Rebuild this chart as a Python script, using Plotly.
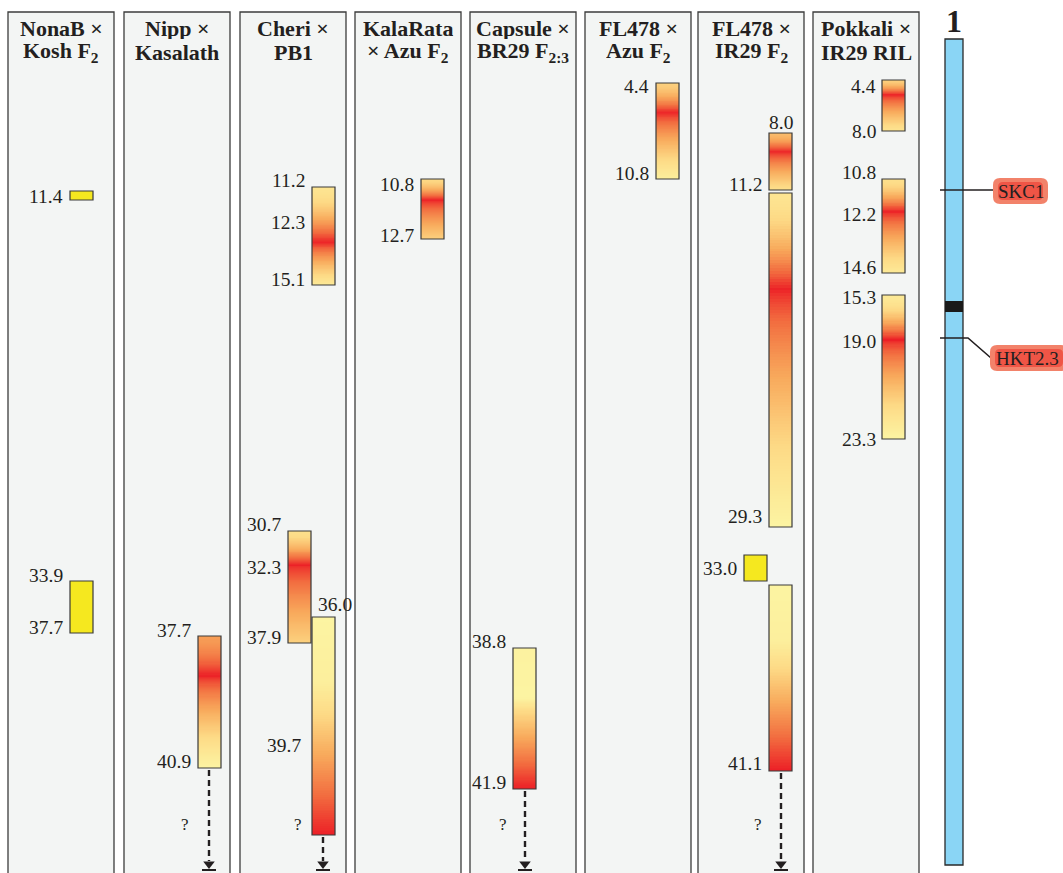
import numpy as np
import plotly.graph_objects as go

# ---------------- data ----------------
panel_line1 = ["NonaB ×", "Nipp ×", "Cheri ×", "KalaRata", "Capsule ×", "FL478 ×", "FL478 ×", "Pokkali ×"]
panel_line2 = ["Kosh F<sub>2</sub>", "Kasalath", "PB1", "× Azu F<sub>2</sub>", "BR29 F<sub>2:3</sub>",
               "Azu F<sub>2</sub>", "IR29 F<sub>2</sub>", "IR29 RIL"]
panel_left = [8, 124, 240, 355, 470, 585, 698, 813]

# bars: diagram positions (top/bottom), column left edge, gradient style
bar_left = [70, 70, 198, 312, 288, 312, 421, 513, 656, 769, 769, 744, 769, 882, 882, 882]
bar_top = [191, 581, 636, 187, 531, 617, 179, 648, 83, 133, 193, 555, 585, 80, 179, 295]
bar_bottom = [200, 633, 768, 285, 643, 835, 239, 789, 179, 190, 527, 581, 771, 131, 273, 439]
bar_style = ["solid", "solid", "peak", "peak", "peak", "rise", "peak", "rise2", "peak",
             "peak", "peak", "solid", "rise", "peak", "peak", "peak"]
bar_peak = [None, None, 676, 243, 565, None, 200, None, 113, 152, 290, None, None, 95, 212, 340]
bar_top_level = [0, 0, 0.55, 0.15, 0.2, 0, 0.25, 0, 0.3, 0.4, 0.15, 0, 0, 0.3, 0.2, 0.1]
bar_bottom_level = [0, 0, 0.0, 0.1, 0.3, 1, 0.3, 1, 0.05, 0.2, 0.0, 0, 1, 0.15, 0.1, 0.0]

# Mb position labels
label_text = ["11.4", "33.9", "37.7", "37.7", "40.9", "11.2", "12.3", "15.1", "30.7", "32.3", "37.9",
              "39.7", "10.8", "12.7", "38.8", "41.9", "4.4", "10.8", "11.2", "29.3", "33.0", "41.1",
              "4.4", "8.0", "10.8", "12.2", "14.6", "15.3", "19.0", "23.3"]
label_x = [65, 65, 65, 193, 193, 307, 307, 307, 283, 283, 283, 303, 416, 416, 508, 508, 651, 651,
           764, 764, 739, 764, 878, 878, 878, 878, 878, 878, 878, 878]
label_y = [196, 575, 627, 630, 761, 180, 222, 279, 524, 567, 637, 745, 184, 235, 641, 782, 86, 173,
           184, 516, 568, 763, 86, 131, 172, 214, 267, 297, 341, 439]
top_labels = ["36.0", "8.0"]
top_label_x = [335, 781]
top_label_y = [604, 122]

# unknown extension arrows
arrow_x = [209, 323, 525, 781]
arrow_from = [768, 835, 789, 771]
question_x = [185, 298, 503, 758]

# chromosome 1 and genes
chrom_top, chrom_bottom = 39, 865
band = (301, 312)
genes = ["SKC1", "HKT2.3"]
gene_y = [190, 338]
gene_box_y = [191, 358]
gene_box_x = [1021, 1027]

INK = "#231f20"
SERIF = "Liberation Serif"

fig = go.Figure()
shapes = []
annotations = []

# panels
PW = 106
for x0, t1, t2 in zip(panel_left, panel_line1, panel_line2):
    shapes.append(dict(type="rect", x0=x0, x1=x0 + PW, y0=12, y1=890, xref="x", yref="y",
                       fillcolor="#f3f5f4", line=dict(color="#3c3c3c", width=1.3), layer="below"))
    for t, yy in ((t1, 28), (t2, 52)):
        annotations.append(dict(x=x0 + PW / 2, y=yy, text="<b>" + t + "</b>", showarrow=False,
                                xref="x", yref="y", font=dict(family=SERIF, size=22, color=INK),
                                xanchor="center", yanchor="middle", height=22))

colorscale = [[0, "#fcf4a2"], [0.25, "#fdda86"], [0.5, "#f8aa5c"], [0.75, "#f26e40"], [1, "#ec1f26"]]
BW = 23


def profile(style, top, bot, peak, tl, bl, n=120):
    ys = np.linspace(top, bot, n + 1)
    yc = (ys[:-1] + ys[1:]) / 2
    f = (yc - top) / (bot - top)
    if style == "peak":
        pf = (peak - top) / (bot - top)
        z = np.where(f < pf, tl + (1 - tl) * ((f / pf) ** 1.6),
                     1 - (1 - bl) * (((f - pf) / (1 - pf)) ** 0.7))
    elif style == "rise":
        z = np.interp(f, [0, 0.3, 1], [0.0, 0.05, 1.0])
    else:  # rise2
        z = np.interp(f, [0, 0.35, 0.45, 1], [0.02, 0.0, 0.25, 1.0])
    return ys, z


for x0, top, bot, st, pk, tl, bl in zip(bar_left, bar_top, bar_bottom, bar_style, bar_peak,
                                        bar_top_level, bar_bottom_level):
    if st == "solid":
        shapes.append(dict(type="rect", x0=x0, x1=x0 + BW, y0=top, y1=bot, xref="x", yref="y",
                           fillcolor="#f5e81f", line=dict(color="#3a3a3a", width=1.2), layer="above"))
        continue
    ys, z = profile(st, top, bot, pk, tl, bl)
    fig.add_trace(go.Heatmap(x=[x0, x0 + BW], y=ys, z=[[v] for v in z], colorscale=colorscale,
                             zmin=0, zmax=1, showscale=False, hoverinfo="skip"))
    shapes.append(dict(type="rect", x0=x0, x1=x0 + BW, y0=top, y1=bot, xref="x", yref="y",
                       fillcolor="rgba(0,0,0,0)", line=dict(color="#3a3a3a", width=1.2), layer="above"))

for t, x, y in zip(label_text, label_x, label_y):
    annotations.append(dict(x=x, y=y, text=t, showarrow=False, xref="x", yref="y",
                            xanchor="right", yanchor="middle",
                            font=dict(family=SERIF, size=19.5, color=INK)))
for t, x, y in zip(top_labels, top_label_x, top_label_y):
    annotations.append(dict(x=x, y=y, text=t, showarrow=False, xref="x", yref="y",
                            xanchor="center", yanchor="middle",
                            font=dict(family=SERIF, size=19.5, color=INK)))

for x, y0, qx in zip(arrow_x, arrow_from, question_x):
    shapes.append(dict(type="line", x0=x, x1=x, y0=y0 + 2, y1=861, xref="x", yref="y",
                       line=dict(color=INK, width=2.4, dash="6px,4px")))
    shapes.append(dict(type="line", x0=x - 7, x1=x + 7, y0=870, y1=870, xref="x", yref="y",
                       line=dict(color=INK, width=2)))
    annotations.append(dict(x=qx, y=824, text="?", showarrow=False, xref="x", yref="y",
                            xanchor="center", yanchor="middle",
                            font=dict(family=SERIF, size=17, color=INK)))
fig.add_trace(go.Scatter(x=arrow_x, y=[864] * len(arrow_x), mode="markers",
                         marker=dict(symbol="triangle-down", size=10, color=INK),
                         hoverinfo="skip", showlegend=False))

# chromosome
shapes.append(dict(type="rect", x0=945, x1=963, y0=chrom_top, y1=chrom_bottom, xref="x", yref="y",
                   fillcolor="#8ad5f5", line=dict(color="#2a2a2a", width=1.3)))
shapes.append(dict(type="rect", x0=945, x1=963, y0=band[0], y1=band[1], xref="x", yref="y",
                   fillcolor="#1a1a1a", line=dict(width=0)))
annotations.append(dict(x=954, y=21, text="<b>1</b>", showarrow=False, xref="x", yref="y",
                        xanchor="center", yanchor="middle", font=dict(family=SERIF, size=32, color=INK)))

# gene tags
shapes.append(dict(type="line", x0=940, x1=994, y0=gene_y[0], y1=gene_y[0], xref="x", yref="y",
                   line=dict(color=INK, width=1.6)))
shapes.append(dict(type="path", path="M 940,%d L 968,%d L 991,%d" % (gene_y[1], gene_y[1], gene_box_y[1]),
                   xref="x", yref="y", line=dict(color=INK, width=1.6)))


def rounded(x0, x1, y0, y1, r):
    return (f"M {x0+r},{y0} L {x1-r},{y0} Q {x1},{y0} {x1},{y0+r} L {x1},{y1-r} Q {x1},{y1} {x1-r},{y1} "
            f"L {x0+r},{y1} Q {x0},{y1} {x0},{y1-r} L {x0},{y0+r} Q {x0},{y0} {x0+r},{y0} Z")


boxes = [(993, 1048, 178, 204), (990, 1068, 345, 371)]
for (x0, x1, y0, y1), g, cx, cy in zip(boxes, genes, gene_box_x, gene_box_y):
    shapes.append(dict(type="path", path=rounded(x0, x1, y0, y1, 7), xref="x", yref="y",
                       fillcolor="#f2826a", line=dict(width=0)))
    shapes.append(dict(type="path", path=rounded(x0 + 5, x1 - 5, y0 + 4, y1 - 4, 5), xref="x", yref="y",
                       fillcolor="rgba(236,50,40,0.55)", line=dict(width=0)))
    annotations.append(dict(x=cx, y=cy, text=g, showarrow=False, xref="x", yref="y",
                            xanchor="center", yanchor="middle",
                            font=dict(family=SERIF, size=19, color=INK)))

fig.update_layout(width=1063, height=873, margin=dict(l=0, r=0, t=0, b=0),
                  paper_bgcolor="white", plot_bgcolor="white", showlegend=False,
                  shapes=shapes, annotations=annotations,
                  xaxis=dict(range=[0, 1063], visible=False, fixedrange=True),
                  yaxis=dict(range=[873, 0], visible=False, fixedrange=True))
fig.write_html("out.html", config={"displayModeBar": False},
               post_script="document.body.style.margin='0';document.body.style.overflow='hidden';")
